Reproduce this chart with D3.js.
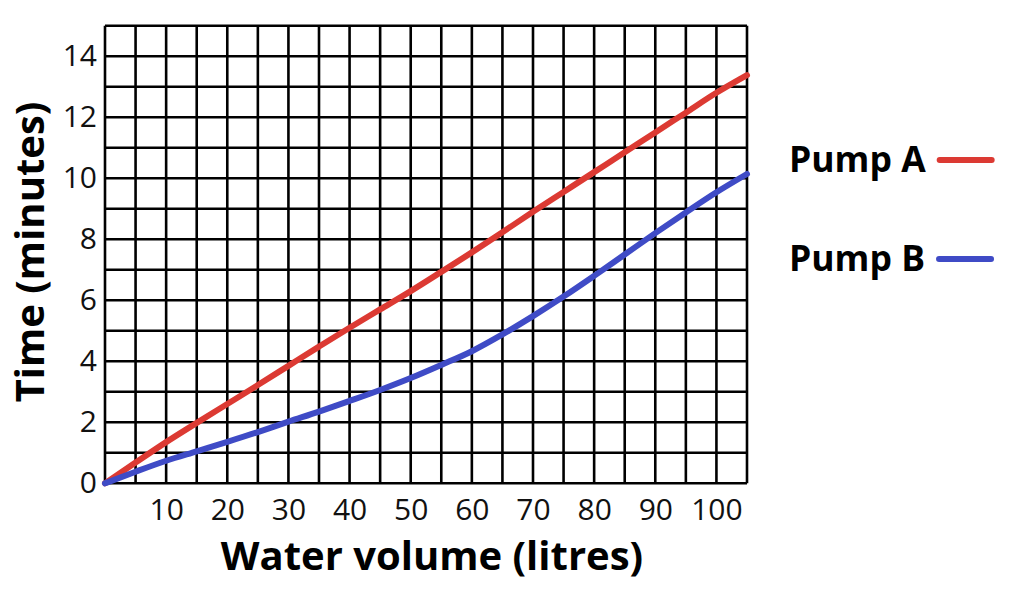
<!DOCTYPE html>
<html>
<head>
<meta charset="utf-8">
<script src="https://cdn.jsdelivr.net/npm/d3@7"></script>
<style>
  body { margin: 0; background: #fff; }
  svg { display: block; font-family: "Open Sans", sans-serif; }
</style>
</head>
<body>
<svg id="chart" width="1018" height="590"></svg>
<script>
// values
const volumes = [0, 5, 10, 15, 20, 25, 30, 35, 40, 45, 50, 55, 60, 65, 70, 75, 80, 85, 90, 95, 100, 105];
const pumpA   = [0, 0.68, 1.35, 1.98, 2.6, 3.22, 3.85, 4.48, 5.1, 5.7, 6.3, 6.93, 7.57, 8.23, 8.9, 9.55, 10.2, 10.85, 11.5, 12.15, 12.8, 13.38];
const pumpB   = [0, 0.38, 0.74, 1.05, 1.36, 1.68, 2.02, 2.35, 2.7, 3.06, 3.45, 3.88, 4.33, 4.88, 5.48, 6.12, 6.8, 7.5, 8.2, 8.88, 9.54, 10.14];
const xTicks  = [10, 20, 30, 40, 50, 60, 70, 80, 90, 100];
const yTicks  = [0, 2, 4, 6, 8, 10, 12, 14];
const seriesNames = ["Pump A", "Pump B"];
const seriesColors = ["#dc3a33", "#3f4bc6"];

let svg = d3.select("#chart");
let x = d3.scaleLinear().domain([0, 105]).range([105, 747]);
let y = d3.scaleLinear().domain([0, 15]).range([483.3, 25.7]);

// grid
let grid = svg.append("g").attr("stroke", "#000").attr("stroke-width", 2.6);
grid.selectAll(".gx").data(d3.range(0, 106, 5)).join("line")
  .attr("x1", d => x(d)).attr("x2", d => x(d))
  .attr("y1", y(0)).attr("y2", y(15));
grid.selectAll(".gy").data(d3.range(0, 16, 1)).join("line")
  .attr("y1", d => y(d)).attr("y2", d => y(d))
  .attr("x1", x(0)).attr("x2", x(105));

// axes (labels only)
let xAxis = svg.append("g").attr("transform", `translate(0,${y(0)})`)
  .call(d3.axisBottom(x).tickValues(xTicks).tickSize(0).tickPadding(15));
let yAxis = svg.append("g").attr("transform", `translate(${x(0)},0)`)
  .call(d3.axisLeft(y).tickValues(yTicks).tickSize(0).tickPadding(8));
[xAxis, yAxis].forEach(a => {
  a.select(".domain").remove();
  a.selectAll("text").attr("font-family", "Open Sans").attr("font-size", 30).attr("fill", "#111");
});

// lines
let line = d3.line().x((d, i) => x(volumes[i])).y(d => y(d)).curve(d3.curveMonotoneX);
[pumpA, pumpB].forEach((s, i) => {
  svg.append("path").attr("d", line(s))
    .attr("fill", "none").attr("stroke", seriesColors[i])
    .attr("stroke-width", 6).attr("stroke-linecap", "round");
});

// titles
svg.append("text").attr("x", 432).attr("y", 570).attr("text-anchor", "middle")
  .attr("font-size", 40).attr("font-weight", "bold").attr("fill", "#000")
  .text("Water volume (litres)");
svg.append("text").attr("transform", "translate(44,252) rotate(-90)").attr("text-anchor", "middle")
  .attr("font-size", 40).attr("font-weight", "bold").attr("fill", "#000")
  .text("Time (minutes)");

// legend
let legY = [160, 259];
seriesNames.forEach((n, i) => {
  let g = svg.append("g");
  let t = g.append("text").attr("x", 789).attr("y", legY[i] + 12)
    .attr("font-size", 35.5).attr("font-weight", "bold").attr("fill", "#000").text(n);
  let w = t.node().getComputedTextLength();
  g.append("line").attr("x1", 789 + w + 14).attr("x2", 789 + w + 14 + 52)
    .attr("y1", legY[i]).attr("y2", legY[i])
    .attr("stroke", seriesColors[i]).attr("stroke-width", 6).attr("stroke-linecap", "round");
});
</script>
</body>
</html>
